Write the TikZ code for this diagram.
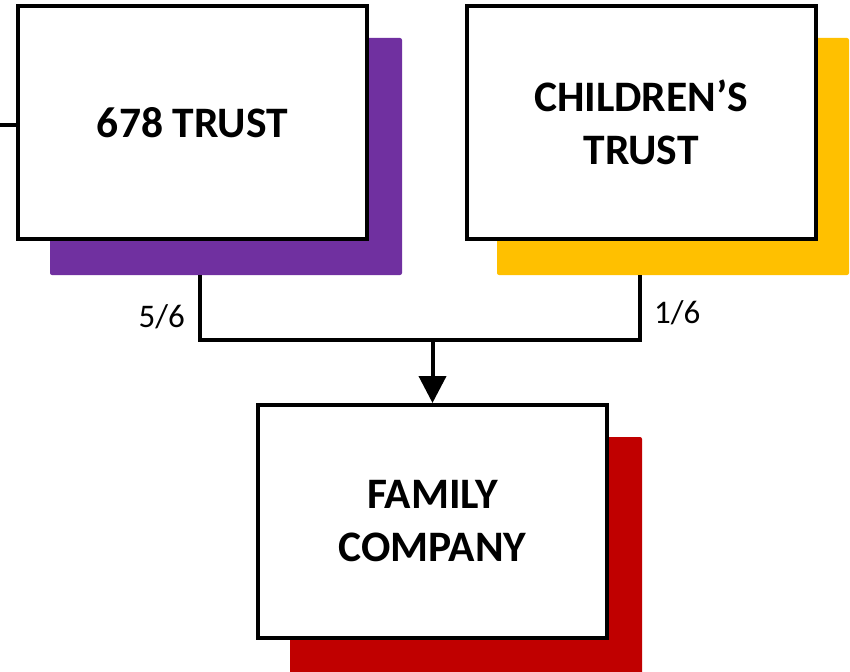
\documentclass[tikz,border=0pt]{standalone}
\usepackage{fontspec}
\setmainfont{Carlito}
\usetikzlibrary{arrows.meta,positioning}
\definecolor{trustpurple}{HTML}{7030A0}
\definecolor{trustyellow}{HTML}{FFC000}
\definecolor{companyred}{HTML}{C00000}
\tikzset{
    entity/.style={
    rectangle,draw=black,fill=white,line width=4pt,
    minimum width=349pt,minimum height=233pt,align=center,
    font=\fontsize{43.5}{53}\selectfont\bfseries
    },
    backing/.style={
    rectangle,rounded corners=2pt,inner sep=0pt,
    minimum width=352pt,minimum height=237pt
    },
    share/.style={
    font=\fontsize{33}{38}\selectfont,inner sep=0pt
    },
    link/.style={
    line width=4pt
    },
}
\begin{document}
\begin{tikzpicture}[x=1pt,y=-1pt]
   \useasboundingbox (0,0) rectangle (850,671);
   % coloured backings
   \node[backing,fill=trustpurple] (sh678) at (226,156.5) {};
   \node[backing,fill=trustyellow] (shchild) at (673,156.5) {};
   \node[backing,fill=companyred] (shfamily) at (466,555.5) {};
   % entities
   \node[entity] (b678) at (192.5,122.5) {678 TRUST};
   \node[entity] (bchild) at (641,122.5) {CHILDREN’S\\TRUST};
   \node[entity] (bfamily) at (432.5,521.5) {FAMILY\\COMPANY};
   % connectors
   \coordinate (left) at (0,125);
   \coordinate (j1) at (200,340);
   \coordinate (j2) at (640,340);
   \draw[link] (left) -- (left -| b678.west);
   \draw[link] (sh678.south -| j1) -- (j1) -- (j2) -- (shchild.south -| j2);
   \draw[link,-{Triangle[width=27pt,length=27pt]}] (bfamily.north |- j1) -- (bfamily.north);
   \node[share,anchor=east] (s1) at (185,317) {5/6};
   \node[share,anchor=west] (s2) at (654,313) {1/6};
\end{tikzpicture}
\end{document}
